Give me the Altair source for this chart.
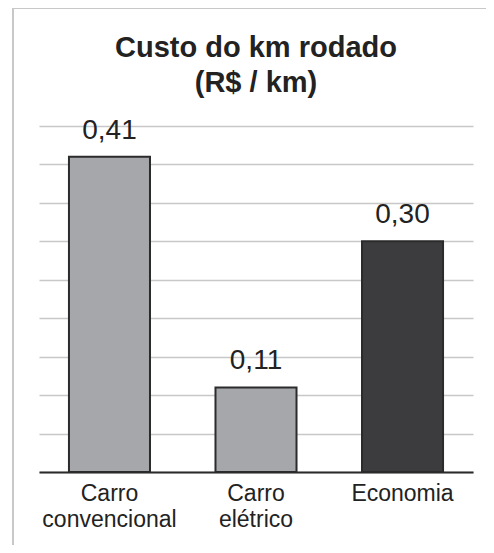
import altair as alt
import pandas as pd

categories = ["Carro convencional", "Carro elétrico", "Economia"]
values = [0.41, 0.11, 0.30]
value_labels = ["0,41", "0,11", "0,30"]
colors = ["#a5a7aa", "#a5a7aa", "#3c3c3e"]
grid_values = [0, 0.05, 0.1, 0.15, 0.2, 0.25, 0.3, 0.35, 0.4, 0.45]
title_text = "Custo do km rodado\n(R$ / km)"

df = pd.DataFrame({"cat": categories, "val": values, "lab": value_labels, "col": colors})

FONT = "Liberation Sans"

x_enc = alt.X("cat:N", sort=categories,
              scale=alt.Scale(paddingInner=0.447, paddingOuter=0.2045),
              axis=alt.Axis(title=None, labelAngle=0, ticks=False, domain=True,
                            domainColor="#2b2b2b", domainWidth=2,
                            labelFont=FONT, labelFontSize=23, labelColor="#222",
                            labelPadding=10, labelLineHeight=26,
                            labelExpr="split(datum.label, ' ')", grid=False))
y_enc = alt.Y("val:Q", scale=alt.Scale(domain=[0, 0.45], nice=False),
              axis=alt.Axis(title=None, labels=False, ticks=False, domain=False,
                            values=grid_values, grid=True, gridColor="#c8c8c8",
                            gridWidth=1.5))

border = alt.Chart(alt.Data(values=[{"a": 1}])).mark_rect(
    fill="transparent", stroke="#c8c8c8", strokeWidth=2
).encode(x=alt.value(-26), x2=alt.value(800), y=alt.value(-118), y2=alt.value(800))

title = alt.Chart(alt.Data(values=[{"t": title_text}])).mark_text(
    font=FONT, fontSize=29, fontWeight="bold", color="#222", lineBreak="\n",
    lineHeight=35, baseline="alphabetic", align="center"
).encode(x=alt.value(217), y=alt.value(-69), text="t:N")

bars = alt.Chart(df).mark_bar(stroke="#2b2b2b", strokeWidth=2).encode(
    x=x_enc, y=y_enc, fill=alt.Fill("col:N", scale=None)
)

texts = alt.Chart(df).mark_text(
    baseline="bottom", dy=-12, font=FONT, fontSize=28, color="#222"
).encode(x=x_enc, y=y_enc, text="lab:N")

chart = alt.layer(border, title, bars, texts).properties(
    width=434, height=346,
    autosize=alt.AutoSizeParams(type="none"),
    padding={"left": 31, "top": 118, "right": 13, "bottom": 73},
).configure(background="white").configure_view(strokeWidth=0, stroke="transparent")

chart.save("out.html", embed_options={"renderer": "svg", "actions": False})
